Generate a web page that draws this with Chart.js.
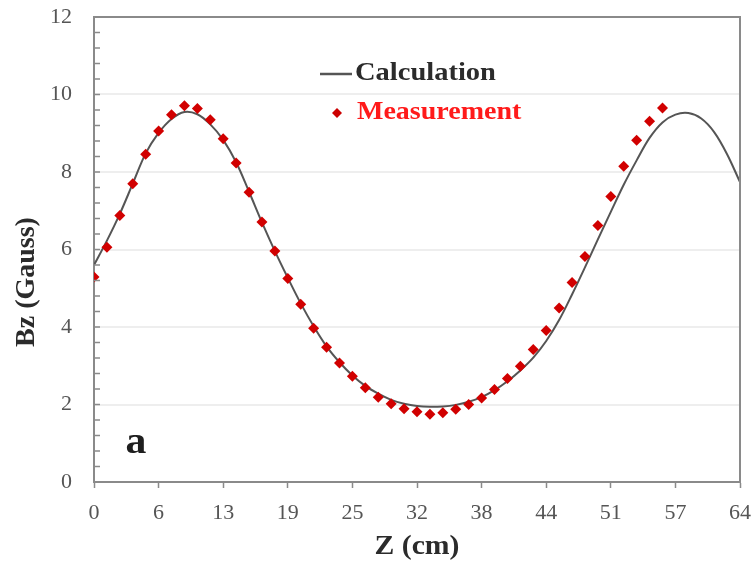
<!DOCTYPE html>
<html>
<head>
<meta charset="utf-8">
<script src="https://cdn.jsdelivr.net/npm/chart.js@4.4.1/dist/chart.umd.min.js"></script>
<style>
  html, body { margin: 0; padding: 0; background: #fff; }
  #wrap { width: 753px; height: 567px; }
</style>
</head>
<body>
<div id="wrap"><canvas id="bzChart" width="753" height="567"></canvas></div>
<script>
// Bz along the axis — calculation curve vs measured points

// measured points every 0.5 inch (1.27 cm)
const measZ = [0, 1.27, 2.54, 3.81, 5.08, 6.35, 7.62, 8.89, 10.16, 11.43, 12.7, 13.97, 15.24, 16.51, 17.78,
  19.05, 20.32, 21.59, 22.86, 24.13, 25.4, 26.67, 27.94, 29.21, 30.48, 31.75, 33.02, 34.29, 35.56, 36.83,
  38.1, 39.37, 40.64, 41.91, 43.18, 44.45, 45.72, 46.99, 48.26, 49.53, 50.8, 52.07, 53.34, 54.61, 55.88];
const measBz = [5.29, 6.06, 6.88, 7.70, 8.46, 9.06, 9.48, 9.71, 9.64, 9.35, 8.86, 8.23, 7.48, 6.71, 5.96,
  5.25, 4.59, 3.97, 3.48, 3.07, 2.73, 2.43, 2.19, 2.02, 1.89, 1.81, 1.75, 1.79, 1.88, 2.00,
  2.17, 2.39, 2.67, 2.99, 3.42, 3.91, 4.49, 5.15, 5.82, 6.62, 7.37, 8.15, 8.82, 9.31, 9.65];

// calculated curve
const calcZ = [0, 1.27, 2.54, 3.81, 5.08, 6.35, 7.62, 8.89, 10.16, 11.43, 12.7, 13.97, 15.24, 16.51, 17.78,
  19.05, 20.32, 21.59, 22.86, 24.13, 25.4, 26.67, 27.94, 29.21, 30.48, 31.75, 33.02, 34.29, 35.56, 36.83,
  38.1, 39.37, 40.64, 41.91, 43.18, 44.45, 45.72, 46.99, 48.26, 49.53, 50.8, 52.07, 53.34, 54.61, 55.88,
  57.15, 58.42, 59.69, 60.96, 62.23, 63.5];
const calcBz = [5.60, 6.23, 6.92, 7.70, 8.48, 9.01, 9.37, 9.55, 9.49, 9.23, 8.83, 8.25, 7.49, 6.70, 5.96,
  5.27, 4.61, 4.02, 3.50, 3.09, 2.75, 2.48, 2.28, 2.12, 2.02, 1.96, 1.94, 1.95, 1.99, 2.07,
  2.19, 2.37, 2.60, 2.88, 3.21, 3.64, 4.18, 4.84, 5.54, 6.26, 6.97, 7.67, 8.30, 8.88, 9.28,
  9.48, 9.52, 9.38, 9.03, 8.46, 7.74];

const yTicks = [0, 2, 4, 6, 8, 10, 12];

const SERIF = "'Liberation Serif', 'Times New Roman', serif";
const AXIS_GRAY = "#8a8a8a";

function drawText(ctx, text, x, y, font, color, align, sx, rot) {
  ctx.save();
  ctx.font = font;
  ctx.fillStyle = color;
  ctx.textAlign = align;
  ctx.textBaseline = "middle";
  ctx.translate(x, y);
  if (rot) ctx.rotate(rot);
  ctx.scale(sx, 1);
  ctx.fillText(text, 0, 0);
  ctx.restore();
}

// frame, minor ticks, legend, titles
const decorPlugin = {
  id: "decor",
  afterDatasetsDraw(chart) {
    const { ctx, chartArea: { left, top, right, bottom }, scales } = chart;
    ctx.save();
    ctx.strokeStyle = AXIS_GRAY;
    ctx.lineWidth = 2;
    ctx.beginPath();
    ctx.moveTo(left, top);
    ctx.lineTo(right, top);
    ctx.lineTo(right, bottom);
    ctx.stroke();

    // inward minor ticks on the y axis, every 0.4
    ctx.lineWidth = 1.5;
    ctx.beginPath();
    for (let k = 0; k <= 30; k++) {
      const py = scales.y.getPixelForValue(k * 0.4);
      ctx.moveTo(left, py);
      ctx.lineTo(left + 6, py);
    }
    ctx.stroke();

    // legend
    ctx.strokeStyle = "#555";
    ctx.lineWidth = 2.5;
    ctx.beginPath();
    ctx.moveTo(320, 74);
    ctx.lineTo(352, 74);
    ctx.stroke();
    ctx.fillStyle = "#cc0000";
    ctx.beginPath();
    ctx.moveTo(337, 108);
    ctx.lineTo(342, 113);
    ctx.lineTo(337, 118);
    ctx.lineTo(332, 113);
    ctx.closePath();
    ctx.fill();
    ctx.restore();

    drawText(ctx, "Calculation", 355, 74, `bold 25px ${SERIF}`, "#2b2b2b", "left", 1.14);
    drawText(ctx, "Measurement", 357, 113, `bold 25px ${SERIF}`, "#ff1a1a", "left", 1.12);
    drawText(ctx, "a", 136, 443, `bold 38px ${SERIF}`, "#1e1e1e", "center", 1.1);

    // axis titles
    drawText(ctx, "Z (cm)", (left + right) / 2, 547, `bold 27px ${SERIF}`, "#2b2b2b", "center", 1.1);
    drawText(ctx, "Bz (Gauss)", 27, 282, `bold 28px ${SERIF}`, "#2b2b2b", "center", 1.0, -Math.PI / 2);
  }
};

const ctx = document.getElementById("bzChart").getContext("2d");
new Chart(ctx, {
  type: "scatter",
  plugins: [decorPlugin],
  data: {
    datasets: [
      {
        type: "line",
        label: "Calculation",
        data: calcZ.map((z, i) => ({ x: z, y: calcBz[i] })),
        borderColor: "#555555",
        borderWidth: 2,
        pointRadius: 0,
        tension: 0.35,
        fill: false,
        order: 1
      },
      {
        label: "Measurement",
        data: measZ.map((z, i) => ({ x: z, y: measBz[i] })),
        pointStyle: "rectRot",
        pointRadius: 5.5,
        backgroundColor: "#d10000",
        borderWidth: 0,
        order: 0
      }
    ]
  },
  options: {
    responsive: false,
    animation: false,
    layout: { padding: { top: 17, right: 13, left: 0, bottom: 0 } },
    plugins: { legend: { display: false }, tooltip: { enabled: false } },
    scales: {
      x: {
        type: "linear",
        min: 0,
        max: 63.5,
        afterFit: s => { s.height = 85; s.paddingLeft = 0; s.paddingRight = 0; },
        ticks: {
          stepSize: 6.35,
          autoSkip: false,
          maxRotation: 0,
          padding: 12,
          color: "#555",
          font: { family: SERIF, size: 22 },
          callback: v => Math.round(v)
        },
        grid: { drawOnChartArea: false, drawTicks: true, tickLength: 6, tickColor: AXIS_GRAY, tickWidth: 1.5 },
        border: { display: true, color: AXIS_GRAY, width: 2 }
      },
      y: {
        min: 0,
        max: 12,
        afterFit: s => { s.width = 94; s.paddingTop = 0; s.paddingBottom = 0; },
        afterBuildTicks: s => { s.ticks = yTicks.map(v => ({ value: v })); },
        ticks: {
          padding: 22,
          color: "#555",
          font: { family: SERIF, size: 22 }
        },
        grid: { color: "#eeeeee", lineWidth: 2, drawTicks: false },
        border: { display: true, color: AXIS_GRAY, width: 2 }
      }
    }
  }
});
</script>
</body>
</html>
